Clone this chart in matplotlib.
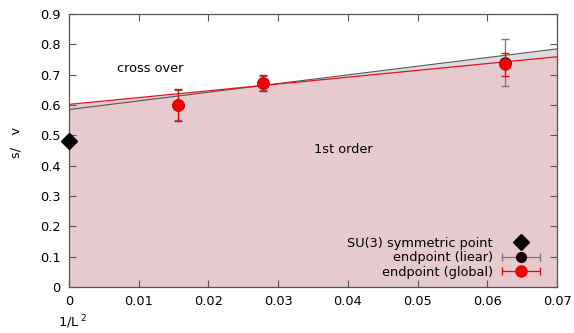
import matplotlib
matplotlib.use("Agg")
import matplotlib.pyplot as plt
from matplotlib.legend_handler import HandlerErrorbar
import numpy as np

# data
line_x = [0.0, 0.07]
lin_fit = [0.585, 0.785]     # linear fit line (black)
glob_fit = [0.602, 0.759]    # global fit line (red)

su3_x = [0.0]
su3_y = [0.48]

lin_x = [0.015625, 0.027778, 0.0625]
lin_y = [0.600, 0.672, 0.740]
lin_err = [0.050, 0.022, 0.077]

glob_x = [0.015625, 0.027778, 0.0625]
glob_y = [0.600, 0.673, 0.734]
glob_err = [0.052, 0.027, 0.038]

FS = 9.3

fig = plt.figure(figsize=(5.74, 3.33), dpi=100)
ax = fig.add_axes([69 / 574, 46 / 333, 488 / 574, 273 / 333])

xx = np.array(line_x)
ax.fill_between(xx, 0, lin_fit, color="#dcdcdc", lw=0, zorder=1)
ax.fill_between(xx, 0, glob_fit, color="#e6cacd", lw=0, zorder=1.5)
ax.plot(xx, lin_fit, color="#555555", lw=0.8, zorder=2)
ax.plot(xx, glob_fit, color="#e8111a", lw=0.9, zorder=2)

h_su3, = ax.plot(su3_x, su3_y, "D", color="black", ms=8, clip_on=False, zorder=5)
ax.errorbar(lin_x, lin_y, yerr=lin_err, fmt="o", color="#1a0000", ecolor="#777777",
            ms=8, capsize=3, elinewidth=0.9, zorder=3)
ax.errorbar(glob_x, glob_y, yerr=glob_err, fmt="o", color="#ee0000", ecolor="#ee0000",
            ms=8, capsize=3, elinewidth=0.9, zorder=4)

# legend proxies with horizontal error bars (gnuplot style)
h_lin = ax.errorbar([np.nan], [np.nan], xerr=[1], fmt="o", color="#1a0000",
                    ecolor="#777777", ms=7, capsize=3, elinewidth=0.9)
h_glob = ax.errorbar([np.nan], [np.nan], xerr=[1], fmt="o", color="#ee0000",
                     ecolor="#ee0000", ms=8, capsize=3, elinewidth=0.9)

ax.text(0.0116, 0.72, "cross over", ha="center", va="center", fontsize=FS)
ax.text(0.0393, 0.452, "1st order", ha="center", va="center", fontsize=FS)

ax.set_xlim(0, 0.07)
ax.set_ylim(0, 0.9)
ax.set_xticks(np.arange(0, 0.0701, 0.01))
ax.set_xticklabels(["0", "0.01", "0.02", "0.03", "0.04", "0.05", "0.06", "0.07"])
ax.set_yticks(np.arange(0, 0.901, 0.1))
ax.set_yticklabels(["0", "0.1", "0.2", "0.3", "0.4", "0.5", "0.6", "0.7", "0.8", "0.9"])
ax.tick_params(direction="in", top=True, right=True, labelsize=FS, color="#555555",
               length=5, pad=6)
for s in ax.spines.values():
    s.set_color("#555555")
    s.set_linewidth(0.9)

leg = ax.legend(handles=[h_su3, h_lin, h_glob],
                labels=["SU(3) symmetric point", "endpoint (liear)", "endpoint (global)"],
                loc="lower right", bbox_to_anchor=(546 / 574, 49 / 333),
                bbox_transform=fig.transFigure, borderaxespad=0,
                markerfirst=False, frameon=False, fontsize=FS,
                handlelength=3.1, labelspacing=0.12, handletextpad=0.6,
                handler_map={type(h_lin): HandlerErrorbar(xerr_size=1.45)})

fig.text(73 / 574, 1 - 322 / 333, "1/L$^{\\ 2}$", ha="center", va="center", fontsize=FS)
fig.text(16 / 574, 1 - 142 / 333, "s/   v", ha="center", va="center", fontsize=FS,
         rotation=90)

fig.savefig("out.png", dpi=100)
